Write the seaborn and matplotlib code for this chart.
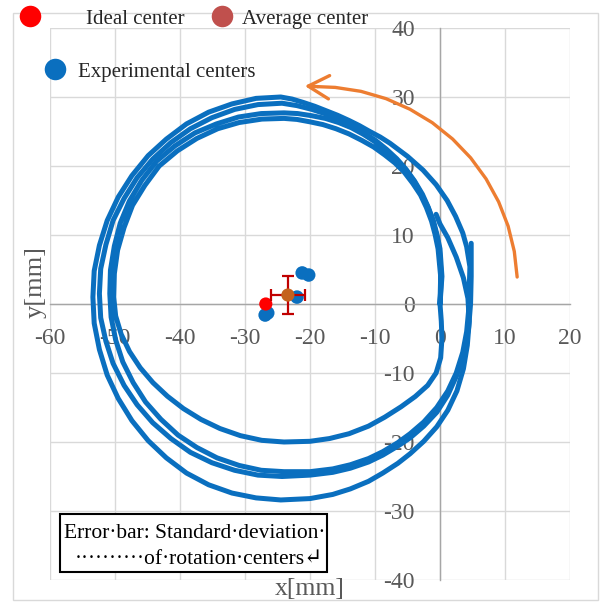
import matplotlib
matplotlib.use("Agg")
import matplotlib.pyplot as plt
from matplotlib.ticker import MultipleLocator
from matplotlib.lines import Line2D
from matplotlib.patches import Rectangle
import pandas as pd
import seaborn as sns

# ---------------- data ----------------
# trace 1: three revolutions (inner, middle, outer)
trace1_pts = [
    # revolution A (inner)
    (0, 0), (0.1, 4), (-0.3, 8), (-0.75, 10.05), (-1.3, 12), (-2.1, 14), (-3, 15.8),
    (-4.2, 17.5), (-5.5, 19.1), (-6.95, 20.45), (-8.5, 21.6), (-10.2, 22.75), (-12, 23.7),
    (-14, 24.65), (-16, 25.4), (-18, 26.0), (-20, 26.4), (-22, 26.75), (-24, 26.9),
    (-27.4, 26.8), (-30.9, 26.3), (-34.2, 25.4), (-37.4, 24.0), (-40.4, 22.2), (-43.2, 20.0),
    (-45.4, 17.2), (-47.3, 14.3), (-48.6, 11.1), (-49.6, 7.8), (-50.1, 4.4), (-50.2, 1.0),
    (-49.9, -1.73), (-49.05, -4.38), (-47.77, -6.89), (-46.12, -9.24), (-44.16, -11.4),
    (-41.93, -13.37), (-39.47, -15.16), (-36.77, -16.73), (-33.85, -18.05), (-30.71, -19.08),
    (-27.41, -19.76), (-24, -20), (-20, -19.9), (-17, -19.5), (-14, -18.8), (-11, -17.7),
    (-8.5, -16.4), (-6, -14.9), (-3.8, -13.4), (-1.9, -11.8), (-0.6, -10), (0.1, -7.8),
    (0.3, -5), (0.2, -2.5), (0, 0),
    # revolution B (middle)
    (0.2, 4), (-0.1, 8), (-0.55, 10.1), (-1.1, 12.1), (-1.9, 14.15), (-2.9, 16),
    (-4.05, 17.9), (-5.4, 19.6), (-6.85, 21.05), (-8.4, 22.3), (-10.05, 23.55),
    (-11.8, 24.6), (-13.65, 25.55), (-15.6, 26.3), (-17.65, 26.9), (-19.8, 27.3),
    (-21.9, 27.6), (-24, 27.7), (-27.5, 27.6), (-31.0, 27.1), (-34.4, 26.1), (-37.7, 24.8),
    (-40.8, 22.9), (-43.6, 20.7), (-45.9, 17.9), (-47.8, 14.9), (-49.2, 11.7), (-50.1, 8.4),
    (-50.7, 4.9), (-50.8, 1.5), (-50.6, -1.9), (-49.9, -5.2), (-48.8, -8.4), (-47.2, -11.4),
    (-45.3, -14.2), (-42.95, -16.7), (-40.3, -19.0), (-37.4, -20.8), (-34.3, -22.3),
    (-30.9, -23.4), (-27.5, -24.1), (-24, -24.3), (-20, -24.3), (-16.5, -23.9),
    (-13.8, -23.3), (-11, -22.4), (-8.8, -21.4), (-6.5, -20.1), (-4.6, -18.8), (-2.5, -17.1),
    (-0.5, -15.0), (1.2, -12.6), (2.5, -10), (3.5, -7), (4.1, -4), (4.4, -1), (4.5, 2),
    (4.6, 5.4), (4.1, 8.3), (3.5, 10.3), (2.4, 12.7), (1.1, 15), (-0.6, 17.3), (-2.6, 19.4),
    (-5, 21.4), (-7.7, 23.3), (-9.2, 24.2), (-10.8, 25.0), (-12.4, 25.85), (-14, 26.6),
    (-15.75, 27.35), (-17.5, 28.0), (-19.25, 28.65), (-21, 29.2), (-22.75, 29.7),
    # revolution C (outer)
    (-24.5, 30.0), (-28.3, 29.8), (-32.0, 29.0), (-35.6, 27.8), (-39.0, 26.1), (-42.1, 23.9),
    (-44.9, 21.5), (-47.4, 18.6), (-49.5, 15.5), (-51.2, 12.1), (-52.4, 8.5), (-53.2, 4.8),
    (-53.4, 1.0), (-53.2, -2.8), (-52.4, -6.6), (-51.2, -10.3), (-49.5, -13.7),
    (-47.4, -16.9), (-44.9, -19.8), (-42.1, -22.3), (-39.0, -24.5), (-35.6, -26.2),
    (-32.0, -27.4), (-28.3, -28.1), (-24.5, -28.4), (-20, -28.2), (-16.5, -27.6),
    (-13.8, -26.8), (-11, -25.7), (-8.8, -24.5), (-6.5, -23.1), (-4.6, -21.7), (-2.5, -19.9),
    (-0.5, -17.8), (1.2, -15.4), (2.6, -12.6), (3.6, -9.4), (4.2, -6), (4.5, -2.5),
    (4.3, 0.8), (3.6, 3.8), (2.5, 6.8), (1.2, 9.6), (0, 11.6), (-0.6, 13),
]
# trace 2: one revolution
trace2_pts = [
    (0, 0), (0.3, 4), (0, 8), (-0.45, 10.0), (-1, 12), (-1.8, 14.0), (-2.7, 15.9),
    (-3.9, 17.8), (-5.2, 19.5), (-6.65, 21.05), (-8.2, 22.4), (-9.9, 23.7), (-11.7, 24.8),
    (-13.6, 25.85), (-15.5, 26.7), (-17.6, 27.55), (-19.7, 28.2), (-22, 28.75),
    (-24.3, 29.1), (-28.0, 28.9), (-31.6, 28.2), (-35.1, 27.0), (-38.4, 25.4), (-41.4, 23.4),
    (-44.2, 21.0), (-46.6, 18.3), (-48.6, 15.3), (-50.3, 12.1), (-51.4, 8.6), (-52.2, 5.1),
    (-52.4, 1.5), (-52.2, -2.0), (-51.4, -5.4), (-50.3, -8.6), (-48.6, -11.8),
    (-46.6, -14.6), (-44.2, -17.2), (-41.4, -19.5), (-38.4, -21.5), (-35.1, -23.0),
    (-31.6, -24.1), (-28.0, -24.8), (-24.3, -25.0), (-20, -24.8), (-16.5, -24.4),
    (-13.8, -23.8), (-11, -22.9), (-8.8, -21.9), (-6.5, -20.6), (-4.6, -19.4), (-2.5, -17.7),
    (-0.5, -15.7), (1.2, -13.2), (2.6, -10.3), (3.7, -7), (4.4, -3.5), (4.7, 0), (4.8, 4),
    (4.8, 8.8),
]
arrow_x = [11.87, 11.43, 10.48, 9.02, 7.09, 4.72, 1.94, -1.19, -4.63, -8.30, -12.16, -16.12, -18.8]
arrow_y = [3.91, 7.62, 11.29, 14.81, 18.13, 21.18, 23.91, 26.28, 28.23, 29.76, 30.82, 31.39, 31.5]
arrow_tip = (-20.8, 31.6)

exp_x = [-26.9, -26.5, -21.2, -20.2, -22.0]
exp_y = [-1.6, -1.3, 4.5, 4.2, 1.0]
ideal_x = [-26.8]
ideal_y = [0.0]
avg_x = [-23.4]
avg_y = [1.3]
avg_xerr = [2.6]
avg_yerr = [2.8]

x_ticks = [-60, -50, -40, -30, -20, -10, 0, 10, 20]
y_ticks = [-40, -30, -20, -10, 0, 10, 20, 30, 40]
legend_labels = ["Ideal center", "Average center", "Experimental centers"]
box_line1 = "Error\u00b7bar: Standard\u00b7deviation\u00b7"
box_line2 = "\u00b7" * 10 + "of\u00b7rotation\u00b7centers\u21b5"

# ---------------- style ----------------
sns.set_style("white")
plt.rcParams["font.family"] = ["Liberation Serif", "DejaVu Serif"]

BLUE = "#0A6FBF"
ORANGE = "#ED7D31"
RED = "#FF0000"
BROWN = "#C0504D"
AVG = "#C4621E"
ERR = "#C00000"
GRID = "#D9D9D9"
AXC = "#A6A6A6"
TXT = "#595959"

fig = plt.figure(figsize=(6.04, 6.03), dpi=100)
ax = fig.add_axes([50 / 604, 23 / 603, 520 / 604, 552 / 603])

# outer chart-area frame
fig.add_artist(Rectangle((13 / 604, 3 / 603), 585 / 604, 587 / 603, transform=fig.transFigure,
                         fill=False, edgecolor=GRID, lw=1, zorder=0))

t1 = pd.DataFrame(trace1_pts, columns=["x", "y"])
t2 = pd.DataFrame(trace2_pts, columns=["x", "y"])
for t in (t1, t2):
    sns.lineplot(data=t, x="x", y="y", sort=False, estimator=None, ax=ax, color=BLUE,
                 lw=3.6, solid_capstyle="round", solid_joinstyle="round", zorder=3)

arc = pd.DataFrame({"x": arrow_x, "y": arrow_y})
sns.lineplot(data=arc, x="x", y="y", sort=False, estimator=None, ax=ax, color=ORANGE,
             lw=2.4, zorder=3, solid_joinstyle="round")
ax.annotate("", xy=arrow_tip, xytext=(arrow_x[-1], arrow_y[-1]),
            arrowprops=dict(arrowstyle="->,head_length=0.75,head_width=0.42", color=ORANGE,
                            lw=2.4, shrinkA=0, shrinkB=0, mutation_scale=20), zorder=3)

sns.scatterplot(x=exp_x, y=exp_y, ax=ax, color=BLUE, s=95, edgecolor="none", zorder=5)
sns.scatterplot(x=ideal_x, y=ideal_y, ax=ax, color=RED, s=90, edgecolor="none", zorder=5)
ax.errorbar(avg_x, avg_y, xerr=avg_xerr, yerr=avg_yerr, fmt="none", ecolor=ERR,
            elinewidth=1.6, capsize=4.5, capthick=1.6, zorder=6)
sns.scatterplot(x=avg_x, y=avg_y, ax=ax, color=AVG, s=90, edgecolor="none", zorder=7)

# axes
ax.set_xlim(-60, 20)
ax.set_ylim(-40, 40)
ax.set_xticks(x_ticks)
ax.set_yticks(y_ticks)
ax.set_xticklabels([str(v) for v in x_ticks])
ax.set_yticklabels([str(v) for v in y_ticks])
ax.xaxis.set_minor_locator(MultipleLocator(2))
ax.yaxis.set_minor_locator(MultipleLocator(2))
ax.spines["left"].set_position(("data", 0))
ax.spines["bottom"].set_position(("data", 0))
ax.spines["top"].set_visible(False)
ax.spines["right"].set_visible(False)
for s in ("left", "bottom"):
    ax.spines[s].set_color(AXC)
    ax.spines[s].set_linewidth(1)
    ax.spines[s].set_zorder(2.5)
ax.grid(True, which="major", color=GRID, lw=1)
ax.set_axisbelow(True)
ax.tick_params(which="both", direction="in", color=AXC, width=1)
ax.tick_params(which="major", length=0)
ax.tick_params(which="minor", length=4)
ax.tick_params(axis="x", which="major", pad=17, labelsize=17, labelcolor=TXT)
ax.tick_params(axis="y", which="major", pad=18, labelsize=17, labelcolor=TXT)
ax.set_xlabel("")
ax.set_ylabel("")

fig.text(36 / 604, 1 - 282 / 603, "y[mm]", rotation=90, ha="center", va="center",
         fontsize=19, color=TXT)
fig.text(310 / 604, 1 - 589 / 603, "x[mm]", ha="center", va="center", fontsize=18.5, color=TXT)

# legend entries
h_ideal = Line2D([], [], marker="o", ls="", color=RED, markersize=15.5, markeredgewidth=0)
h_avg = Line2D([], [], marker="o", ls="", color=BROWN, markersize=15.5, markeredgewidth=0)
h_exp = Line2D([], [], marker="o", ls="", color=BLUE, markersize=15.5, markeredgewidth=0)
common = dict(frameon=False, fontsize=15, handlelength=1.0, borderpad=0, borderaxespad=0,
              loc="center left", bbox_transform=fig.transFigure)
lg1 = ax.legend([h_ideal], [legend_labels[0]], bbox_to_anchor=(19.6 / 604, 1 - 19 / 603),
                handletextpad=2.2, **common)
ax.add_artist(lg1)
lg2 = ax.legend([h_avg], [legend_labels[1]], bbox_to_anchor=(211.6 / 604, 1 - 19 / 603),
                handletextpad=0.45, **common)
ax.add_artist(lg2)
ax.legend([h_exp], [legend_labels[2]], bbox_to_anchor=(44.6 / 604, 1 - 72 / 603),
          handletextpad=0.6, **common)

# error-bar note box
fig.add_artist(Rectangle((60 / 604, 1 - 572 / 603), 267 / 604, 58 / 603,
                         transform=fig.transFigure, facecolor="white", edgecolor="black",
                         lw=1.5, zorder=5))
fig.text(325 / 604, 1 - 533 / 603, box_line1, ha="right", va="center", fontsize=15.5,
         color="black", zorder=6)
fig.text(323 / 604, 1 - 560 / 603, box_line2, ha="right", va="center", fontsize=15.5,
         color="black", zorder=6)

fig.savefig("out.png", dpi=100)
